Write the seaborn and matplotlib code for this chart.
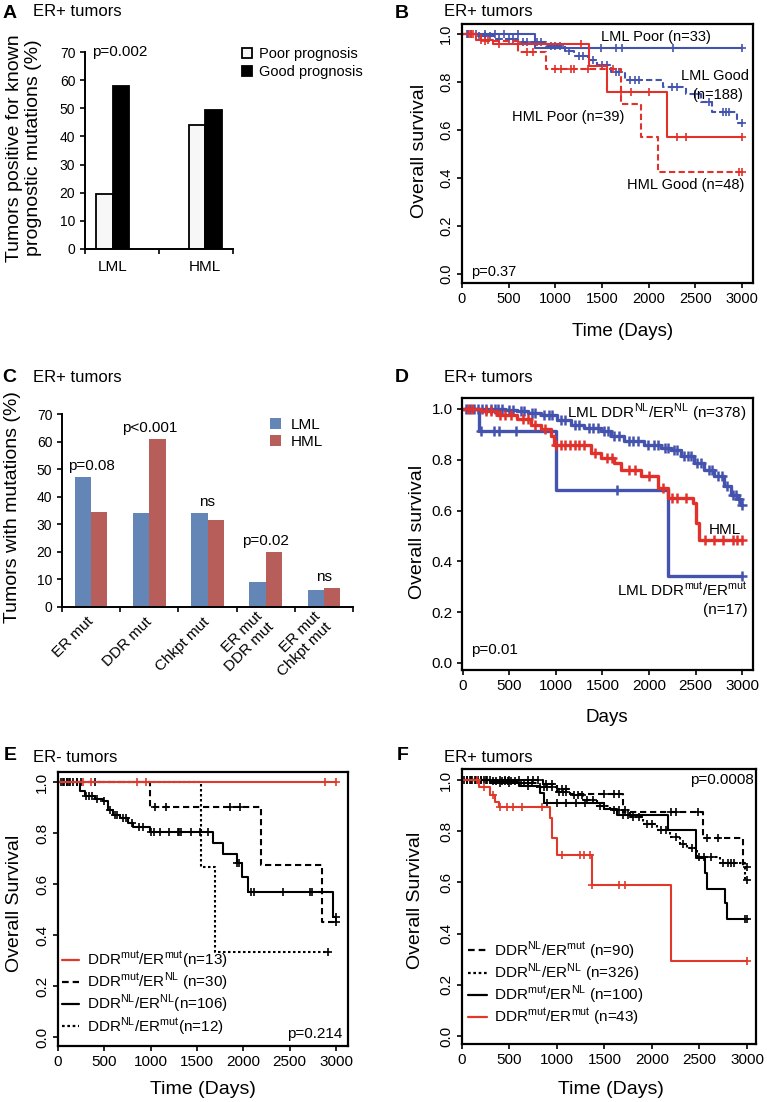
import matplotlib
matplotlib.use('Agg')
import matplotlib.pyplot as plt
import seaborn as sns
import pandas as pd
from matplotlib.lines import Line2D
from bisect import bisect_right

# ------------------------- data -------------------------
# Panel A
a_categories = ['LML', 'HML']
a_hue = ['Poor prognosis', 'Good prognosis']
a_poor = [19.5, 44.0]
a_good = [58.0, 49.5]

# Panel C
c_categories = ['ER mut', 'DDR mut', 'Chkpt mut', 'ER mut\nDDR mut', 'ER mut\nChkpt mut']
c_hue = ['LML', 'HML']
c_lml = [47.0, 34.1, 34.1, 9.1, 6.3]
c_hml = [34.5, 60.8, 31.5, 19.9, 6.9]
c_pvals = ['p=0.08', 'p<0.001', 'ns', 'p=0.02', 'ns']

# Panel B (ER+ tumors, Kaplan-Meier)
b_lml_poor_t = [0, 780]
b_lml_poor_s = [1.0, 0.94]
b_lml_poor_c = [60, 150, 250, 350, 450, 600, 1490, 1650, 1720, 2257, 3000]
b_lml_good_t = [0, 150, 350, 600, 900, 1100, 1200, 1350, 1450, 1600, 1750, 2150, 2400, 2560, 2680, 2950]
b_lml_good_s = [1.0, 0.99, 0.98, 0.965, 0.95, 0.93, 0.91, 0.89, 0.87, 0.84, 0.81, 0.78, 0.75, 0.715, 0.675, 0.63]
b_lml_good_c = [50, 100, 180, 250, 300, 400, 500, 550, 650, 700, 800, 850, 950, 1000, 1050, 1150, 1250,
                1300, 1400, 1500, 1550, 1650, 1680, 1800, 1850, 1900, 2250, 2300, 2500, 2650, 2800, 2830, 2860, 3000]
b_hml_poor_t = [0, 150, 330, 1364, 1553, 2196]
b_hml_poor_s = [1.0, 0.975, 0.958, 0.865, 0.76, 0.57]
b_hml_poor_c = [80, 120, 200, 280, 400, 600, 1275, 1700, 1810, 2007, 2310, 2400, 3000]
b_hml_good_t = [0, 200, 600, 900, 1704, 1918, 2104]
b_hml_good_s = [1.0, 0.97, 0.925, 0.855, 0.71, 0.57, 0.425]
b_hml_good_c = [100, 250, 700, 760, 1000, 1060, 1170, 1200, 1350, 1620, 2970, 3000]

# Panel D
d_lml_nl_t = [0, 450, 585, 700, 836, 1015, 1159, 1302, 1482, 1589, 1733, 1948, 2128, 2235, 2343, 2487,
              2594, 2702, 2810, 2881, 2953, 2990]
d_lml_nl_s = [1.0, 0.995, 0.99, 0.985, 0.978, 0.958, 0.938, 0.925, 0.912, 0.892, 0.872, 0.859, 0.846, 0.84,
              0.813, 0.787, 0.76, 0.734, 0.695, 0.662, 0.645, 0.622]
d_lml_nl_c = [30, 80, 120, 160, 200, 250, 300, 340, 380, 420, 500, 540, 620, 660, 740, 780, 870, 920, 960,
              1050, 1100, 1200, 1250, 1350, 1400, 1450, 1520, 1560, 1620, 1680, 1780, 1830, 1880, 1990, 2050,
              2100, 2170, 2200, 2270, 2300, 2380, 2420, 2450, 2520, 2560, 2640, 2680, 2740, 2780, 2840, 2900,
              2930, 2970, 3000]
d_lml_mut_t = [0, 172, 997, 2199]
d_lml_mut_s = [1.0, 0.912, 0.682, 0.342]
d_lml_mut_c = [190, 334, 388, 567, 1661, 3000]
d_hml_t = [0, 190, 370, 585, 728, 836, 944, 980, 1374, 1482, 1625, 1697, 1912, 2092, 2199, 2468, 2504, 2540]
d_hml_s = [1.0, 0.99, 0.978, 0.96, 0.938, 0.92, 0.892, 0.859, 0.826, 0.807, 0.787, 0.76, 0.734, 0.688,
           0.649, 0.629, 0.55, 0.484]
d_hml_c = [50, 100, 250, 300, 400, 450, 520, 650, 700, 780, 880, 1000, 1050, 1100, 1150, 1200, 1250, 1300,
           1420, 1550, 1600, 1780, 1850, 2000, 2150, 2250, 2300, 2400, 2600, 2700, 2800, 2900, 2950, 3000]

# Panel E (ER- tumors)
e_mm_t = [0]
e_mm_s = [1.0]
e_mm_c = [270, 360, 850, 950, 2880, 3000]
e_mn_t = [0, 990, 2186, 2852]
e_mn_s = [1.0, 0.9, 0.675, 0.45]
e_mn_c = [100, 200, 400, 1044, 1170, 1855, 1962, 3000]
e_nn_t = [0, 234, 288, 400, 486, 540, 594, 666, 756, 810, 990, 1674, 1782, 1926, 1980, 2052, 2963]
e_nn_s = [1.0, 0.963, 0.944, 0.935, 0.924, 0.891, 0.872, 0.858, 0.839, 0.823, 0.803, 0.76, 0.718, 0.681,
          0.629, 0.57, 0.472]
e_nn_c = [30, 60, 100, 130, 160, 200, 300, 330, 370, 420, 500, 560, 620, 640, 700, 730, 800, 870, 920, 1000,
          1040, 1100, 1200, 1300, 1310, 1330, 1440, 1530, 1620, 1930, 1950, 2080, 2120, 2430, 2720, 2740, 3000]
e_nm_t = [0, 1548, 1692]
e_nm_s = [1.0, 0.667, 0.333]
e_nm_c = [50, 120, 250, 2917]

# Panel F (ER+ tumors)
f_nm_t = [0, 850, 1000, 1139, 1700, 2541, 2962]
f_nm_s = [1.0, 0.985, 0.965, 0.945, 0.876, 0.772, 0.661]
f_nm_c = [100, 200, 300, 400, 450, 500, 600, 700, 750, 800, 880, 950, 1050, 1100, 1500, 1600, 1650, 2200,
          2250, 2480, 2580, 2700, 3000]
f_nn_t = [0, 300, 578, 789, 999, 1139, 1279, 1420, 1560, 1770, 1910, 2050, 2190, 2296, 2366, 2471, 2716, 2979]
f_nn_s = [1.0, 0.995, 0.99, 0.974, 0.954, 0.94, 0.922, 0.9, 0.883, 0.854, 0.83, 0.804, 0.776, 0.752, 0.733,
          0.7, 0.674, 0.609]
f_nn_c = [20, 50, 80, 110, 140, 170, 200, 230, 260, 330, 360, 420, 450, 480, 520, 560, 620, 650, 700, 740,
          820, 860, 900, 950, 1020, 1060, 1100, 1180, 1220, 1260, 1320, 1380, 1450, 1500, 1600, 1650, 1720,
          1800, 1860, 1950, 2000, 2100, 2150, 2250, 2330, 2420, 2500, 2550, 2620, 2750, 2800, 2830, 2860, 3000]
f_mn_t = [0, 300, 600, 824, 859, 1490, 1630, 2173, 2464, 2559, 2576, 2769, 2787]
f_mn_s = [1.0, 0.99, 0.975, 0.948, 0.911, 0.885, 0.863, 0.804, 0.694, 0.635, 0.576, 0.518, 0.459]
f_mn_c = [50, 150, 250, 400, 500, 700, 900, 1000, 1100, 1200, 1300, 1700, 1750, 2980, 3000]
f_mm_t = [0, 175, 298, 350, 386, 929, 946, 999, 1367, 2201]
f_mm_s = [1.0, 0.971, 0.941, 0.915, 0.896, 0.85, 0.772, 0.707, 0.589, 0.293]
f_mm_c = [160, 230, 330, 400, 470, 540, 630, 840, 1050, 1240, 1280, 1345, 1370, 1650, 1720, 3000]

e_labels = [r'DDR$^{\mathregular{mut}}$/ER$^{\mathregular{mut}}$(n=13)',
            r'DDR$^{\mathregular{mut}}$/ER$^{\mathregular{NL}}$ (n=30)',
            r'DDR$^{\mathregular{NL}}$/ER$^{\mathregular{NL}}$(n=106)',
            r'DDR$^{\mathregular{NL}}$/ER$^{\mathregular{mut}}$(n=12)']
f_labels = [r'DDR$^{\mathregular{NL}}$/ER$^{\mathregular{mut}}$ (n=90)',
            r'DDR$^{\mathregular{NL}}$/ER$^{\mathregular{NL}}$ (n=326)',
            r'DDR$^{\mathregular{mut}}$/ER$^{\mathregular{NL}}$ (n=100)',
            r'DDR$^{\mathregular{mut}}$/ER$^{\mathregular{mut}}$ (n=43)']

# ------------------------- style -------------------------
sns.set_theme(style='ticks')
plt.rcParams['font.family'] = ['Liberation Sans', 'DejaVu Sans']
plt.rcParams.update({
    'axes.edgecolor': 'black', 'text.color': 'black', 'xtick.color': 'black',
    'ytick.color': 'black', 'axes.labelcolor': 'black', 'axes.linewidth': 1.4,
    'xtick.major.width': 1.2, 'ytick.major.width': 1.2,
    'xtick.major.size': 3.5, 'ytick.major.size': 3.5,
    'xtick.direction': 'out', 'ytick.direction': 'out',
})

W, H = 767, 1102
fig = plt.figure(figsize=(W / 100, H / 100), dpi=100)


def px_axes(l, t, r, b):
    return fig.add_axes([l / W, 1 - b / H, (r - l) / W, (b - t) / H])


def ftext(x, y, s, **kw):
    fig.text(x / W, 1 - y / H, s, **kw)


BLUE = '#4453ad'
RED = '#e2302a'
KRED = '#e0392b'


def km(ax, t, s, cens, color, ls='-', lw=1.5, ms=6, mew=1.2):
    end = max(t[-1], max(cens))
    xs = list(t) + [end]
    ys = list(s) + [s[-1]]
    sns.lineplot(x=xs, y=ys, drawstyle='steps-post', estimator=None, sort=False,
                 color=color, linestyle=ls, linewidth=lw, ax=ax, legend=False)
    cy = [s[bisect_right(t, c) - 1] for c in cens]
    ax.plot(cens, cy, ls='none', marker='+', ms=ms, mew=mew, color=color)


def km_axes(ax, xlim, ylim, rot, tsize):
    ax.set_xlim(*xlim)
    ax.set_ylim(*ylim)
    ax.set_xticks(range(0, 3001, 500))
    ax.set_yticks([0, 0.2, 0.4, 0.6, 0.8, 1.0])
    ax.set_yticklabels(['0.0', '0.2', '0.4', '0.6', '0.8', '1.0'])
    ax.tick_params(labelsize=tsize, pad=3)
    ax.set_xlabel('')
    ax.set_ylabel('')
    if rot:
        for lab in ax.get_yticklabels():
            lab.set_rotation(90)
            lab.set_va('center')
    for sp in ax.spines.values():
        sp.set_linewidth(1.6)


# ------------------------- Panel A -------------------------
axA = px_axes(85, 52, 233, 249)
dfA = pd.DataFrame({
    'cat': a_categories * 2,
    'prog': [a_hue[0]] * len(a_categories) + [a_hue[1]] * len(a_categories),
    'val': a_poor + a_good,
})
sns.barplot(data=dfA, x='cat', y='val', hue='prog', hue_order=a_hue,
            palette=['#f7f7f7', 'black'], width=0.36, edgecolor='black',
            linewidth=1.3, errorbar=None, ax=axA)
axA.set_xlim(-0.3, 1.3)
axA.set_ylim(0, 70)
axA.set_yticks(range(0, 71, 10))
axA.set_xticks([-0.3, 0.5, 1.3])
axA.set_xticklabels([])
axA.set_xticks([0, 1], minor=True)
axA.set_xticklabels(a_categories, minor=True)
axA.tick_params(axis='x', which='minor', length=0, pad=8, labelsize=11)
axA.tick_params(axis='y', labelsize=10)
axA.set_xlabel('')
axA.set_ylabel('')
sns.despine(ax=axA)
sns.move_legend(axA, 'upper left', bbox_to_anchor=(1.01, 1.06), frameon=False, title=None,
                fontsize=10.5, handlelength=0.7, handleheight=0.7, handletextpad=0.5,
                labelspacing=0.25, borderpad=0)
axA.text(-0.22, 70, 'p=0.002', ha='left', va='center', fontsize=11)
ftext(10, 14, 'A', fontsize=14, fontweight='bold', ha='center', va='center')
ftext(33, 11, 'ER+ tumors', fontsize=12, ha='left', va='center')
ftext(24, 148, 'Tumors positive for known\nprognostic mutations (%)', fontsize=14,
      rotation=90, ha='center', va='center', linespacing=1.1)

# ------------------------- Panel C -------------------------
axC = px_axes(62, 414, 353, 607)
dfC = pd.DataFrame({
    'cat': c_categories * 2,
    'grp': [c_hue[0]] * len(c_categories) + [c_hue[1]] * len(c_categories),
    'val': c_lml + c_hml,
})
sns.barplot(data=dfC, x='cat', y='val', hue='grp', hue_order=c_hue,
            palette=['#5584c4', '#c64f4c'], width=0.56, errorbar=None,
            linewidth=0, ax=axC)
axC.set_xlim(-0.5, 4.5)
axC.set_ylim(0, 70)
axC.set_yticks(range(0, 71, 10))
axC.set_xticks([i - 0.5 for i in range(len(c_categories) + 1)])
axC.set_xticklabels([])
axC.set_xticks(range(len(c_categories)), minor=True)
axC.set_xticklabels(c_categories, minor=True, rotation=45, ha='right',
                    rotation_mode='anchor', va='center')
axC.tick_params(axis='x', which='minor', length=0, pad=9, labelsize=11)
axC.tick_params(axis='y', labelsize=10)
axC.set_xlabel('')
axC.set_ylabel('')
sns.despine(ax=axC)
sns.move_legend(axC, 'upper left', bbox_to_anchor=(0.69, 1.02), frameon=False, title=None,
                fontsize=11, handlelength=0.7, handleheight=0.7, handletextpad=0.6,
                labelspacing=0.2, borderpad=0)
for i, lab in enumerate(c_pvals):
    axC.text(i, max(c_lml[i], c_hml[i]) + 1.6, lab, ha='center', va='bottom', fontsize=11)
ftext(9, 378, 'C', fontsize=14, fontweight='bold', ha='center', va='center')
ftext(33, 378, 'ER+ tumors', fontsize=12, ha='left', va='center')
ftext(13, 507, 'Tumors with mutations (%)', fontsize=14, rotation=90, ha='center', va='center')

# ------------------------- Panel B -------------------------
axB = px_axes(462, 24, 753, 283)
km(axB, b_lml_good_t, b_lml_good_s, b_lml_good_c, BLUE, ls=(0, (3, 1.6)))
km(axB, b_lml_poor_t, b_lml_poor_s, b_lml_poor_c, BLUE)
km(axB, b_hml_good_t, b_hml_good_s, b_hml_good_c, RED, ls=(0, (3, 1.6)))
km(axB, b_hml_poor_t, b_hml_poor_s, b_hml_poor_c, RED)
km_axes(axB, (0, 3120), (-0.0375, 1.042), True, 10.5)
axB.text(1489, 0.9875, 'LML Poor (n=33)', fontsize=10.5, ha='left', va='center')
axB.text(2346, 0.825, 'LML Good', fontsize=10.5, ha='left', va='center')
axB.text(2464, 0.746, '(n=188)', fontsize=10.5, ha='left', va='center')
axB.text(536, 0.654, 'HML Poor (n=39)', fontsize=10.5, ha='left', va='center')
axB.text(1768, 0.371, 'HML Good (n=48)', fontsize=10.5, ha='left', va='center')
axB.text(96, 0.01, 'p=0.37', fontsize=10.5, ha='left', va='center')
ftext(402, 14, 'B', fontsize=14, fontweight='bold', ha='center', va='center')
ftext(444, 11, 'ER+ tumors', fontsize=12, ha='left', va='center')
ftext(419, 151, 'Overall survival', fontsize=14, rotation=90, ha='center', va='center')
ftext(623, 332, 'Time (Days)', fontsize=13.5, ha='center', va='center')

# ------------------------- Panel D -------------------------
axD = px_axes(462, 398, 753, 670)
km(axD, d_lml_nl_t, d_lml_nl_s, d_lml_nl_c, BLUE, lw=2.4, ms=6.5, mew=1.8)
km(axD, d_lml_mut_t, d_lml_mut_s, d_lml_mut_c, BLUE, lw=2.4, ms=6.5, mew=1.8)
km(axD, d_hml_t, d_hml_s, d_hml_c, RED, lw=2.4, ms=6.5, mew=1.8)
km_axes(axD, (-10, 3118), (-0.028, 1.043), False, 11)
axD.text(3043, 0.984, r'LML DDR$^{\mathregular{NL}}$/ER$^{\mathregular{NL}}$ (n=378)', fontsize=11,
         ha='right', va='center')
axD.text(2989, 0.524, 'HML', fontsize=11, ha='right', va='center')
axD.text(3065, 0.287, r'LML DDR$^{\mathregular{mut}}$/ER$^{\mathregular{mut}}$', fontsize=11,
         ha='right', va='center')
axD.text(3065, 0.209, '(n=17)', fontsize=11, ha='right', va='center')
axD.text(86, 0.051, 'p=0.01', fontsize=11, ha='left', va='center')
ftext(402, 378, 'D', fontsize=14, fontweight='bold', ha='center', va='center')
ftext(444, 378, 'ER+ tumors', fontsize=12, ha='left', va='center')
ftext(417, 532, 'Overall survival', fontsize=14, rotation=90, ha='center', va='center')
ftext(607, 718, 'Days', fontsize=13.5, ha='center', va='center')

# ------------------------- Panel E -------------------------
DASH = (0, (3, 1.8))
DOT = (0, (1.2, 1.2))
axE = px_axes(58, 772, 348, 1046)
km(axE, e_nm_t, e_nm_s, e_nm_c, 'black', ls=DOT)
km(axE, e_mn_t, e_mn_s, e_mn_c, 'black', ls=DASH)
km(axE, e_nn_t, e_nn_s, e_nn_c, 'black')
km(axE, e_mm_t, e_mm_s, e_mm_c, KRED)
km_axes(axE, (0, 3129), (-0.035, 1.039), True, 11)
hE = [Line2D([], [], color=KRED, lw=1.6), Line2D([], [], color='black', lw=1.6, ls=DASH),
      Line2D([], [], color='black', lw=1.6), Line2D([], [], color='black', lw=1.6, ls=DOT)]
axE.legend(hE, e_labels, loc='lower left', bbox_to_anchor=(0.015, 0.03), frameon=False,
           fontsize=11, handlelength=1.1, handletextpad=0.5, labelspacing=0.0, borderpad=0,
           borderaxespad=0)
axE.text(3065, 0.012, 'p=0.214', fontsize=11, ha='right', va='center')
ftext(10, 755, 'E', fontsize=14, fontweight='bold', ha='center', va='center')
ftext(33, 757, 'ER- tumors', fontsize=12, ha='left', va='center')
ftext(15, 903, 'Overall Survival', fontsize=14, rotation=90, ha='center', va='center')
ftext(203, 1090, 'Time (Days)', fontsize=14, ha='center', va='center')

# ------------------------- Panel F -------------------------
axF = px_axes(462, 769, 756, 1044)
km(axF, f_nm_t, f_nm_s, f_nm_c, 'black', ls=DASH)
km(axF, f_nn_t, f_nn_s, f_nn_c, 'black', ls=DOT)
km(axF, f_mn_t, f_mn_s, f_mn_c, 'black')
km(axF, f_mm_t, f_mm_s, f_mm_c, KRED)
km_axes(axF, (0, 3095), (-0.031, 1.043), True, 11)
hF = [Line2D([], [], color='black', lw=1.6, ls=DASH), Line2D([], [], color='black', lw=1.6, ls=DOT),
      Line2D([], [], color='black', lw=1.6), Line2D([], [], color=KRED, lw=1.6)]
axF.legend(hF, f_labels, loc='lower left', bbox_to_anchor=(0.022, 0.06), frameon=False,
           fontsize=11, handlelength=1.2, handletextpad=0.5, labelspacing=0.0, borderpad=0,
           borderaxespad=0)
axF.text(3074, 1.0, 'p=0.0008', fontsize=11, ha='right', va='center')
ftext(403, 755, 'F', fontsize=14, fontweight='bold', ha='center', va='center')
ftext(444, 757, 'ER+ tumors', fontsize=12, ha='left', va='center')
ftext(416, 900, 'Overall Survival', fontsize=14, rotation=90, ha='center', va='center')
ftext(611, 1090, 'Time (Days)', fontsize=14, ha='center', va='center')

fig.savefig('out.png', dpi=100)
